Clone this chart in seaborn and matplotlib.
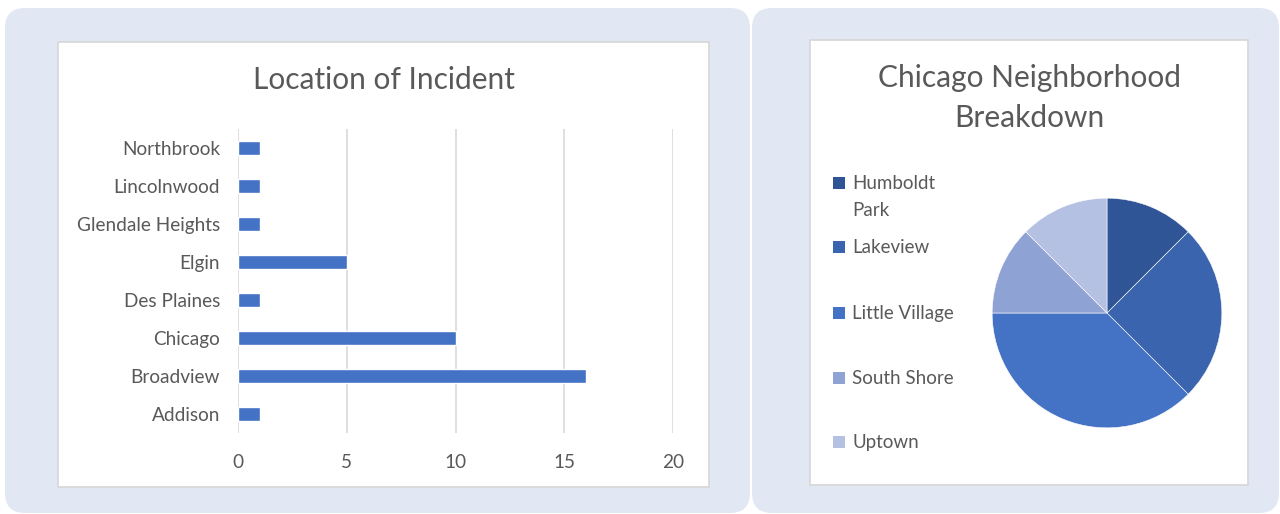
import numpy as np
import matplotlib
matplotlib.use("Agg")
from matplotlib import pyplot as plt
from matplotlib.patches import FancyBboxPatch, Rectangle
import seaborn as sns

sns.set_theme(style="white")
plt.rcParams['font.family'] = ['Lato', 'DejaVu Sans']

# data
cities = ["Northbrook", "Lincolnwood", "Glendale Heights", "Elgin",
          "Des Plaines", "Chicago", "Broadview", "Addison"]
incidents = [1, 1, 1, 5, 1, 10, 16, 1]
xticks = [0, 5, 10, 15, 20]

hoods = ["Humboldt Park", "Lakeview", "Little Village", "South Shore", "Uptown"]
hood_counts = [1, 2, 3, 1, 1]
hood_colors = ["#2F5597", "#3A64AD", "#4472C4", "#8FA2D4", "#B5C1E3"]

W, H = 1280, 514
fig = plt.figure(figsize=(W / 100, H / 100), dpi=100)
fig.patch.set_facecolor("white")
txt = "#595959"
grid = "#D9D9D9"


def box(x0, y0, x1, y1):
    # pixel coords (top-left origin) -> figure fraction [l, b, w, h]
    return [x0 / W, 1 - y1 / H, (x1 - x0) / W, (y1 - y0) / H]


# rounded panels
for (x0, y0, x1, y1) in [(5, 8, 750, 513), (752, 8, 1279, 513)]:
    fig.patches.append(FancyBboxPatch((x0, H - y1), x1 - x0, y1 - y0,
                                      boxstyle="round,pad=0,rounding_size=20",
                                      transform=None, facecolor="#E1E8F4",
                                      edgecolor="none", zorder=-2))

# white chart areas
for (x0, y0, x1, y1) in [(58, 42, 709, 487), (810, 40, 1248, 485)]:
    fig.patches.append(Rectangle((x0, H - y1), x1 - x0, y1 - y0, transform=None,
                                 facecolor="white", edgecolor="#D6D6D6",
                                 linewidth=1.2, zorder=-1))

# bar chart
ax = fig.add_axes(box(238, 129, 673, 433))
ax.set_zorder(5)
ax.set_facecolor("none")
sns.barplot(x=incidents, y=cities, orient="h", color="#4472C4", width=0.37,
            saturation=1, ax=ax, zorder=3)
ax.set_xlim(0, 20)
ax.set_xticks(xticks)
ax.grid(axis="x", color=grid, linewidth=1.2, zorder=0)
ax.set_axisbelow(True)
for s in ax.spines.values():
    s.set_visible(False)
ax.tick_params(axis="both", length=0, labelsize=13.7, labelcolor=txt)
ax.tick_params(axis="x", pad=15)
ax.tick_params(axis="y", pad=13)
ax.set_xlabel("")
ax.set_ylabel("")
fig.text(383.5 / W, 1 - 80 / H, "Location of Incident", ha="center", va="center",
         fontsize=21.5, color=txt, zorder=6)

# pie chart
pax = fig.add_axes(box(991, 197, 1223, 429))
pax.set_zorder(5)
pax.pie(hood_counts, colors=hood_colors, startangle=90, counterclock=False,
        radius=1, wedgeprops=dict(edgecolor="white", linewidth=0.4))
pax.set_xlim(-1.01, 1.01)
pax.set_ylim(-1.01, 1.01)
pax.set_aspect("equal")
pax.axis("off")
fig.text(1029 / W, 1 - 98 / H, "Chicago Neighborhood\nBreakdown", ha="center",
         va="center", fontsize=21.5, color=txt, linespacing=1.5, zorder=6)

# legend
leg_y = [183, 247, 313, 378, 442]
for name, c, y in zip(hoods, hood_colors, leg_y):
    fig.patches.append(Rectangle((833, H - y - 6), 12, 12, transform=None,
                                 facecolor=c, edgecolor="none", zorder=2))
    label = "Humboldt\nPark" if name == "Humboldt Park" else name
    fig.text(852 / W, 1 - (y - 8) / H, label, ha="left", va="top",
             fontsize=13.5, color=txt, linespacing=1.7, zorder=6)

fig.savefig("out.png", dpi=100)
